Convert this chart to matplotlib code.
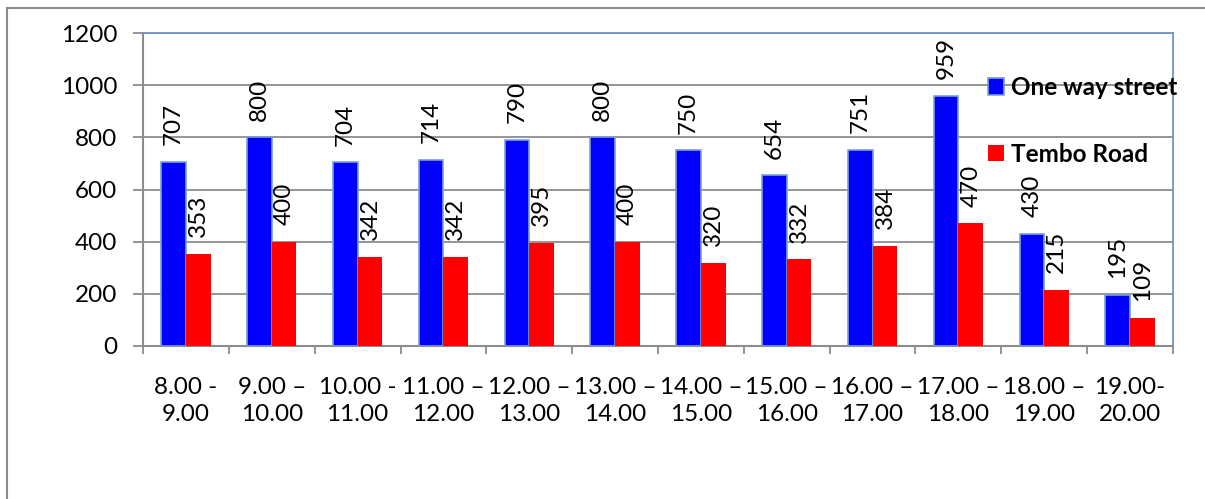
import matplotlib
matplotlib.use("Agg")
import matplotlib.pyplot as plt
import numpy as np
from matplotlib.patches import Rectangle, Patch

plt.rcParams['font.family'] = ['Lato', 'DejaVu Sans']

periods = ["8.00 -\n9.00", "9.00 \u2013\n10.00", "10.00 -\n11.00", "11.00 \u2013\n12.00",
           "12.00 \u2013\n13.00", "13.00 \u2013\n14.00", "14.00 \u2013\n15.00", "15.00 \u2013\n16.00",
           "16.00 \u2013\n17.00", "17.00 \u2013\n18.00", "18.00 \u2013\n19.00", "19.00-\n20.00"]
one_way_street = [707, 800, 704, 714, 790, 800, 750, 654, 751, 959, 430, 195]
tembo_road = [353, 400, 342, 342, 395, 400, 320, 332, 384, 470, 215, 109]
series_names = ["One way street", "Tembo Road"]
y_ticks = [0, 200, 400, 600, 800, 1000, 1200]

FS = 17.5
W, H = 1205, 499
fig = plt.figure(figsize=(W / 100, H / 100), dpi=100)

# outer chart frame
fig.patches.append(Rectangle((7 / W, -0.1), 1.2, (H - 8) / H + 0.1, transform=fig.transFigure,
                             fill=False, edgecolor="#8c8c8c", linewidth=1.5))

ax = fig.add_axes([143 / W, (H - 346) / H, (1173 - 143) / W, (346 - 33) / H])

x = np.arange(len(periods))
bw = 0.288
grey = "#8c8c8c"
frame_blue = "#6f94c8"

b1 = ax.bar(x - bw / 2, one_way_street, bw, color="#0000ff", edgecolor="#7a9fd4", linewidth=1.2, zorder=3)
b2 = ax.bar(x + bw / 2, tembo_road, bw, color="#ff0000", edgecolor="none", zorder=3)

for bars in (b1, b2):
    ax.bar_label(bars, rotation=90, padding=12, fontsize=FS, color="black")

ax.set_xlim(-0.5, len(periods) - 0.5)
ax.set_ylim(0, 1200)
ax.set_yticks(y_ticks)
ax.yaxis.grid(True, color=grey, linewidth=1.3, zorder=0)
ax.set_axisbelow(True)

ax.set_xticks(np.arange(len(periods) + 1) - 0.5)
ax.set_xticklabels([])
ax.set_xticks(x, minor=True)
ax.set_xticklabels(periods, minor=True, fontsize=FS, linespacing=1.38)
ax.tick_params(axis="x", which="major", length=6, width=1.3, color=grey, direction="out")
ax.tick_params(axis="x", which="minor", length=0, pad=22)
ax.tick_params(axis="y", length=7, width=1.3, color=grey, labelsize=FS, pad=11.5)

ax.spines["left"].set_color(grey)
ax.spines["bottom"].set_color(grey)
ax.spines["left"].set_linewidth(1.5)
ax.spines["bottom"].set_linewidth(1.5)
ax.spines["top"].set_color(frame_blue)
ax.spines["right"].set_color(frame_blue)
ax.spines["top"].set_linewidth(1.3)
ax.spines["right"].set_linewidth(1.3)

handles = [Patch(facecolor="#0000ff", edgecolor="#7a9fd4", linewidth=1.2),
           Patch(facecolor="#ff0000", edgecolor="none")]
leg = fig.legend(handles, series_names, loc="upper left", bbox_to_anchor=(988 / W, 1 - 76 / H),
                 frameon=False, fontsize=FS, handlelength=0.66, handleheight=0.66,
                 handletextpad=0.3, labelspacing=1.8, borderpad=0, borderaxespad=0)
for t in leg.get_texts():
    t.set_fontweight("bold")

fig.savefig("out.png", dpi=100, facecolor="white")
